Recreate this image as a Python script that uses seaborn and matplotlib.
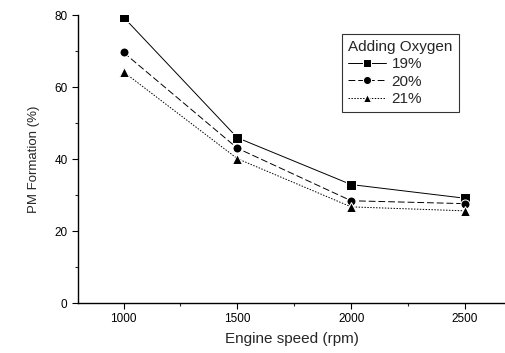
import matplotlib
matplotlib.use("Agg")
import matplotlib.pyplot as plt
import numpy as np
import pandas as pd
import seaborn as sns
from matplotlib.ticker import MultipleLocator

speed = [1000, 1500, 2000, 2500]
pm_19 = [79.4, 45.9, 32.9, 29.1]
pm_20 = [69.6, 43.0, 28.4, 27.6]
pm_21 = [64.2, 40.1, 26.7, 25.6]
labels = ["19%", "20%", "21%"]

df = pd.DataFrame({
    "speed": speed * 3,
    "pm": pm_19 + pm_20 + pm_21,
    "oxygen": [labels[0]] * 4 + [labels[1]] * 4 + [labels[2]] * 4,
})

sns.set_style("ticks")
plt.rcParams["font.family"] = ["Liberation Sans", "DejaVu Sans"]

fig = plt.figure(figsize=(5.05, 3.53), dpi=100)
ax = fig.add_axes([78 / 505, 50 / 353, 1 - 78 / 505, 288 / 353])

sns.lineplot(data=df, x="speed", y="pm", style="oxygen", color="black",
             markers={"19%": "s", "20%": "o", "21%": "^"},
             dashes={"19%": "", "20%": (7, 3), "21%": (1.5, 1.5)},
             markersize=6.5, linewidth=0.7, ax=ax)

ax.set_xlim(800, 2676)
ax.set_ylim(0, 80)
ax.set_xticks(speed)
ax.xaxis.set_minor_locator(MultipleLocator(250))
ax.yaxis.set_major_locator(MultipleLocator(20))
ax.yaxis.set_minor_locator(MultipleLocator(10))
ax.tick_params(which="major", length=4, width=0.8, labelsize=8.5, colors="black")
ax.tick_params(which="minor", length=2.5, width=0.8)
for s in ["top", "right"]:
    ax.spines[s].set_visible(False)
for s in ["left", "bottom"]:
    ax.spines[s].set_linewidth(1.0)
    ax.spines[s].set_color("black")

ax.set_xlabel("Engine speed (rpm)", fontsize=11, labelpad=5)
ax.set_ylabel("PM Formation (%)", fontsize=9.5, labelpad=10)

leg = ax.legend(title="Adding Oxygen", loc="upper left",
                bbox_to_anchor=((342 - 78) / 427, 1 - (34 - 15) / 288),
                fontsize=11, title_fontsize=11, frameon=True, fancybox=False,
                borderpad=0.4, labelspacing=0.22, handlelength=2.5,
                handletextpad=0.35, borderaxespad=0, markerscale=0.9)
leg._legend_box.align = "left"
leg.get_frame().set_edgecolor("black")
leg.get_frame().set_linewidth(0.8)

fig.savefig("out.png", dpi=100)
